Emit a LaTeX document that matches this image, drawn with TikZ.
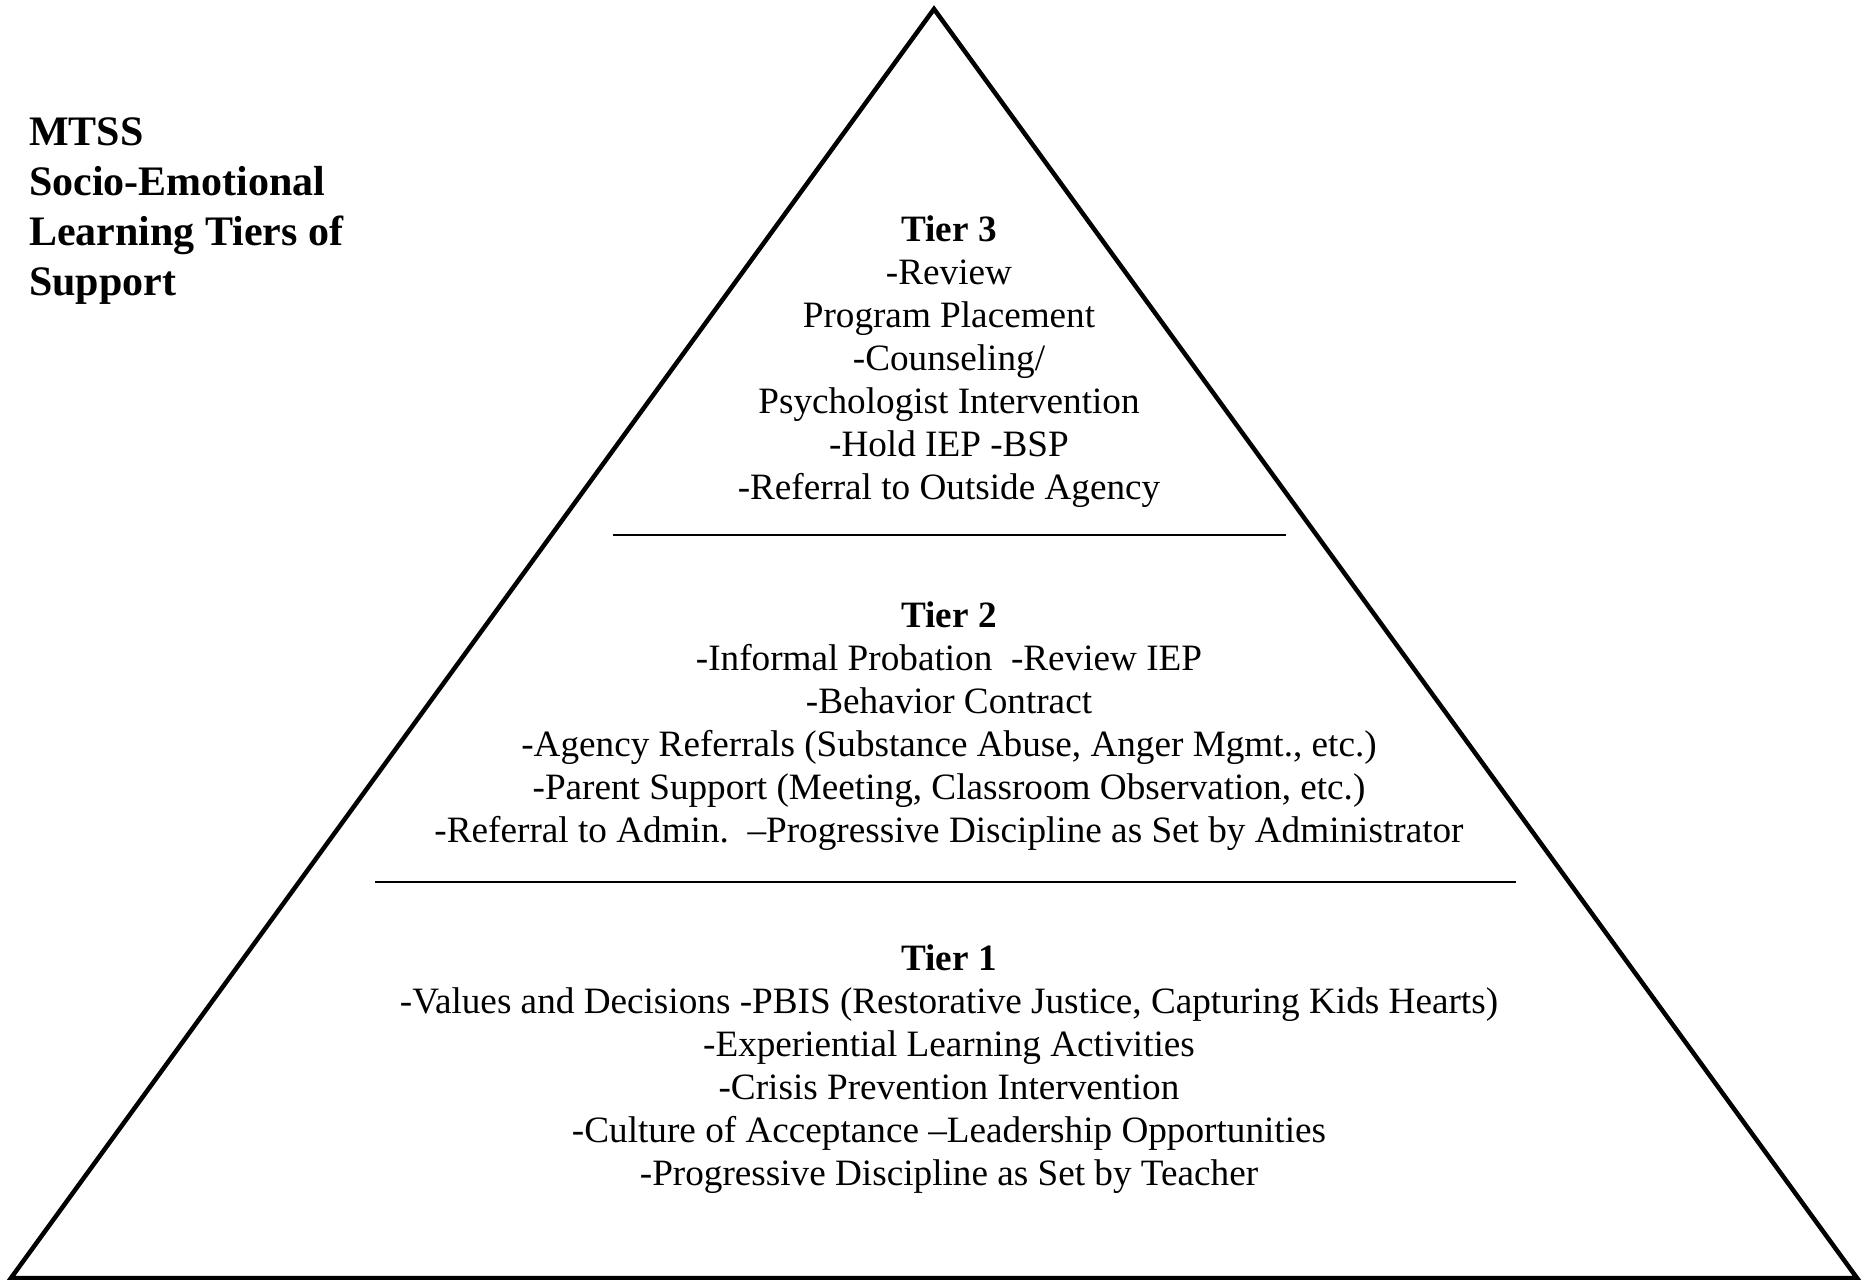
\documentclass[tikz,border=0pt]{standalone}
\usepackage{fontspec}
\setmainfont{Liberation Serif}
\begin{document}
\begin{tikzpicture}[x=1pt,y=1pt,
  tri/.style={line width=4.5pt, line join=miter},
  sep/.style={line width=2.6pt},
  tiertext/.style={align=center, inner sep=0pt, font=\fontsize{37.2}{43}\selectfont},
  titletext/.style={align=left, inner sep=0pt, anchor=west, font=\fontsize{42}{50}\selectfont\bfseries}]
\useasboundingbox (0,0) rectangle (1864,-1280);
\coordinate (apex) at (934,-9);
\coordinate (bl) at (11,-1278);
\coordinate (br) at (1857,-1278);
\draw[tri] (apex) -- (bl) -- (br) -- cycle;
\coordinate (s1a) at (613,-535);
\coordinate (s1b) at (1286,-535);
\coordinate (s2a) at (375,-882);
\coordinate (s2b) at (1516,-882);
\draw[sep] (s1a) -- (s1b);
\draw[sep] (s2a) -- (s2b);
\node[titletext] (title) at (29,-211) {MTSS\\Socio-Emotional\\Learning Tiers of\\Support};
\node[tiertext] (t3) at (949,-362) {\textbf{Tier 3}\\-Review\\Program Placement\\-Counseling/\\Psychologist Intervention\\-Hold IEP -BSP\\-Referral to Outside Agency};
\node[tiertext] (t2) at (949,-726) {\textbf{Tier 2}\\-Informal Probation\ \ -Review IEP\\-Behavior Contract\\-Agency Referrals (Substance Abuse, Anger Mgmt., etc.)\\-Parent Support (Meeting, Classroom Observation, etc.)\\-Referral to Admin.\ \ –Progressive Discipline as Set by Administrator};
\node[tiertext] (t1) at (949,-1069) {\textbf{Tier 1}\\-Values and Decisions -PBIS (Restorative Justice, Capturing Kids Hearts)\\-Experiential Learning Activities\\-Crisis Prevention Intervention\\-Culture of Acceptance –Leadership Opportunities\\-Progressive Discipline as Set by Teacher};
\end{tikzpicture}
\end{document}
